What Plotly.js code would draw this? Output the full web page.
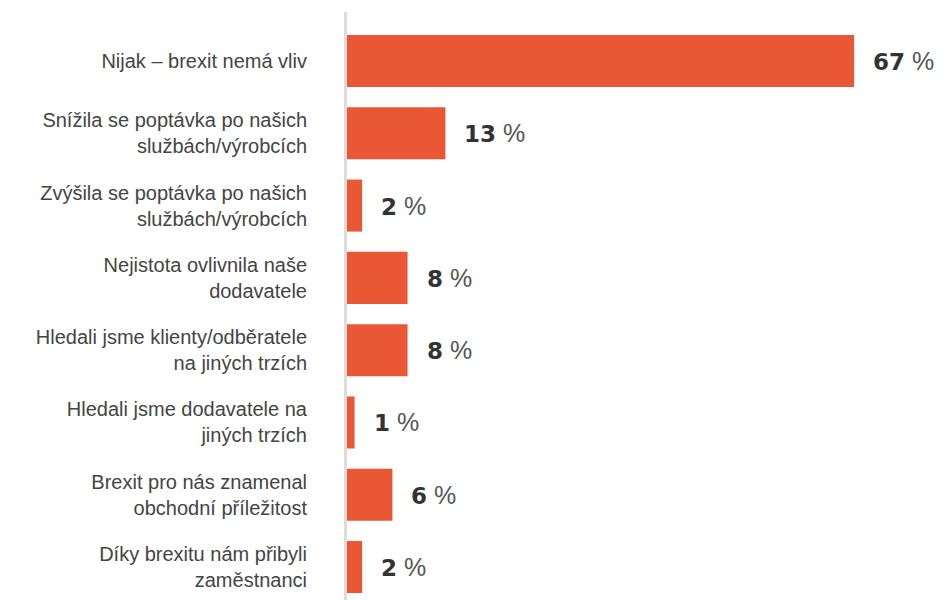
<!DOCTYPE html>
<html>
<head>
<meta charset="utf-8">
<script src="https://cdn.plot.ly/plotly-3.0.1.min.js"></script>
<style>html,body{margin:0;padding:0;background:#fff;}#chart{width:945px;height:600px;}</style>
</head>
<body>
<div id="chart"></div>
<script>
const categories = [
  "Nijak – brexit nemá vliv",
  "Snížila se poptávka po našich<br>službách/výrobcích",
  "Zvýšila se poptávka po našich<br>službách/výrobcích",
  "Nejistota ovlivnila naše<br>dodavatele",
  "Hledali jsme klienty/odběratele<br>na jiných trzích",
  "Hledali jsme dodavatele na<br>jiných trzích",
  "Brexit pro nás znamenal<br>obchodní příležitost",
  "Díky brexitu nám přibyli<br>zaměstnanci"
];
const values = [67, 13, 2, 8, 8, 1, 6, 2];

const annotations = values.map((v, i) => ({
  x: v, y: i, xref: 'x', yref: 'y',
  text: '<span style="font-family:DejaVu Sans;font-weight:bold;font-size:23px">' + v + '</span> <span style="color:#555;font-weight:300">%</span>',
  showarrow: false, xanchor: 'left', yanchor: 'middle', xshift: 17,
  font: {family: 'Liberation Sans, Arial, sans-serif', size: 25, color: '#333'}
}));

const trace = {
  type: 'bar', orientation: 'h',
  x: values, y: categories.map((c, i) => i),
  marker: {color: '#E95735'},
  hoverinfo: 'none'
};

const layout = {
  width: 945, height: 600,
  margin: {l: 347, r: 0, t: 12, b: 0},
  paper_bgcolor: '#fff', plot_bgcolor: '#fff',
  bargap: 0.28,
  showlegend: false,
  xaxis: {range: [0, 79], visible: false, fixedrange: true},
  yaxis: {
    range: [7.456, -0.678],
    tickmode: 'array', tickvals: categories.map((c, i) => i), ticktext: categories,
    showgrid: false, zeroline: false,
    showline: true, linecolor: '#dcdcdc', linewidth: 3,
    ticks: '', ticklabelstandoff: 33,
    tickfont: {family: 'Liberation Sans, Arial, sans-serif', size: 20, color: '#444'}
  },
  annotations: annotations
};

Plotly.newPlot('chart', [trace], layout, {staticPlot: true, displayModeBar: false});
</script>
</body>
</html>
